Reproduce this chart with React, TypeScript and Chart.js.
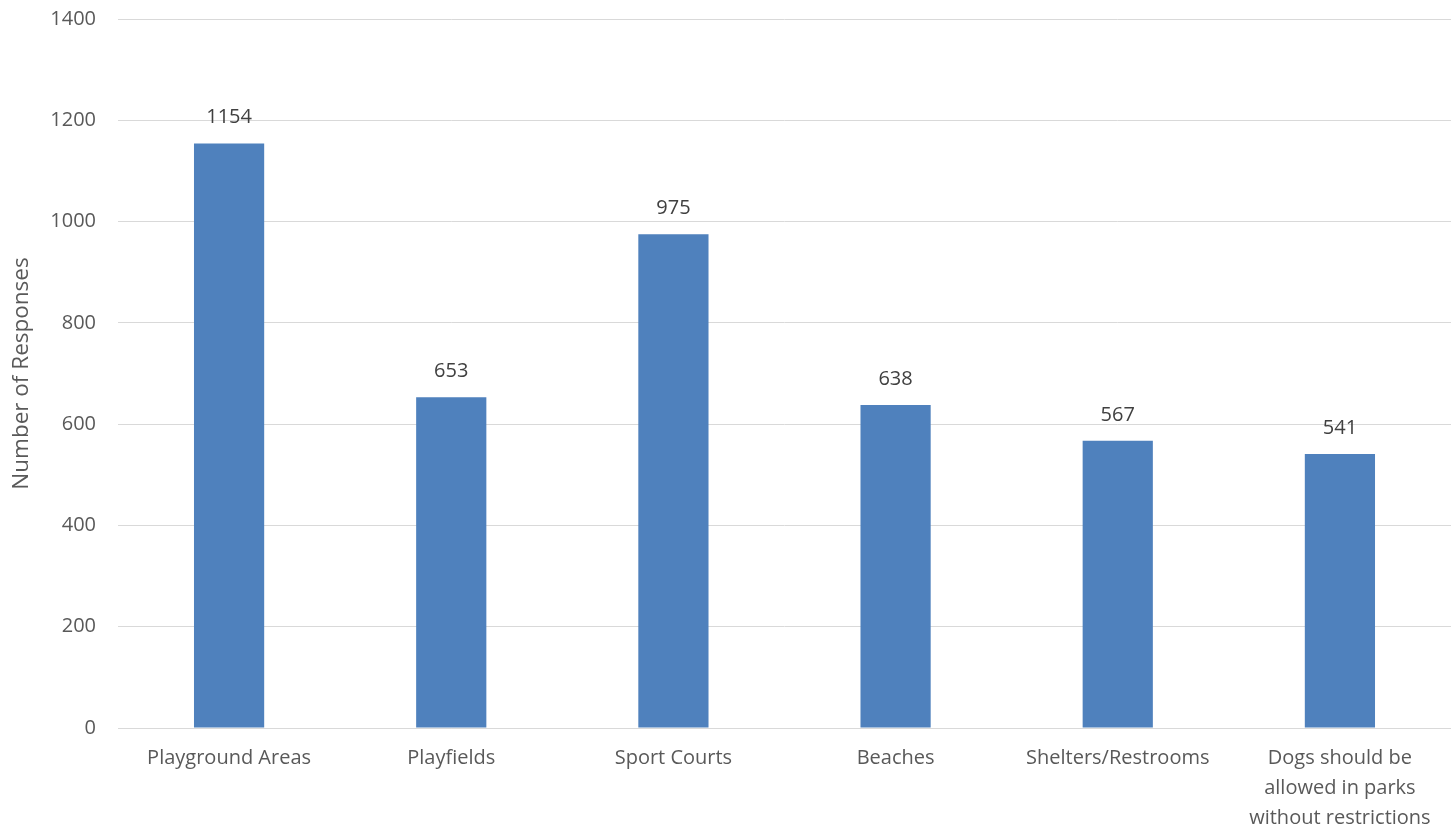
import React, { useEffect, useRef } from "react";
import { Chart, registerables } from "chart.js";

Chart.register(...registerables);

const categories: (string | string[])[] = [
  "Playground Areas",
  "Playfields",
  "Sport Courts",
  "Beaches",
  "Shelters/Restrooms",
  ["Dogs should be", "allowed in parks", "without restrictions"],
];
const responses = [1154, 653, 975, 638, 567, 541];
const yTicks = [0, 200, 400, 600, 800, 1000, 1200, 1400];

const FONT = "'Open Sans', 'Noto Sans', sans-serif";

const valueLabels = {
  id: "valueLabels",
  afterDatasetsDraw(chart: any) {
    const ctx = chart.ctx;
    const meta = chart.getDatasetMeta(0);
    ctx.save();
    ctx.fillStyle = "#404040";
    ctx.font = `20px ${FONT}`;
    ctx.textAlign = "center";
    ctx.textBaseline = "middle";
    meta.data.forEach((bar: any, i: number) => {
      ctx.fillText(String(responses[i]), bar.x, bar.y - 26);
    });
    ctx.restore();
  },
};

export default function App() {
  const ref = useRef<HTMLCanvasElement>(null);
  useEffect(() => {
    if (!ref.current) return;
    const chart = new Chart(ref.current, {
      type: "bar",
      data: {
        labels: categories,
        datasets: [
          {
            data: responses,
            backgroundColor: "#4F81BD",
            categoryPercentage: 1,
            barPercentage: 0.316,
          },
        ],
      },
      options: {
        animation: false,
        responsive: false,
        maintainAspectRatio: false,
        layout: { padding: 0 },
        plugins: {
          legend: { display: false },
          tooltip: { enabled: false },
        },
        scales: {
          x: {
            grid: { display: false, drawTicks: false },
            border: { color: "#d9d9d9", width: 1 },
            ticks: {
              color: "#595959",
              font: { family: FONT, size: 20, lineHeight: 1.5 },
              padding: 15,
              maxRotation: 0,
              autoSkip: false,
            },
            afterFit: (s: any) => {
              s.height = 101;
              s.paddingLeft = 0;
              s.paddingRight = 0;
            },
          },
          y: {
            min: 0,
            max: 1400,
            afterBuildTicks: (axis: any) => {
              axis.ticks = yTicks.map((v) => ({ value: v }));
            },
            grid: { color: "#d9d9d9", drawTicks: false },
            border: { display: false },
            ticks: {
              color: "#595959",
              font: { family: FONT, size: 20 },
              padding: 22,
              callback: (v: any) => String(v),
            },
            title: {
              display: true,
              text: "Number of Responses",
              color: "#595959",
              font: { family: FONT, size: 22.5 },
              padding: { top: 8, bottom: 12 },
            },
            afterFit: (s: any) => {
              s.width = 118;
              s.paddingTop = 19;
              s.paddingBottom = 0;
            },
          },
        },
      },
      plugins: [valueLabels],
    });
    return () => chart.destroy();
  }, []);
  return (
    <div style={{ position: "fixed", left: 0, top: 0, width: 1451, height: 829, background: "#fff" }}>
      <canvas ref={ref} width={1451} height={829} />
    </div>
  );
}
